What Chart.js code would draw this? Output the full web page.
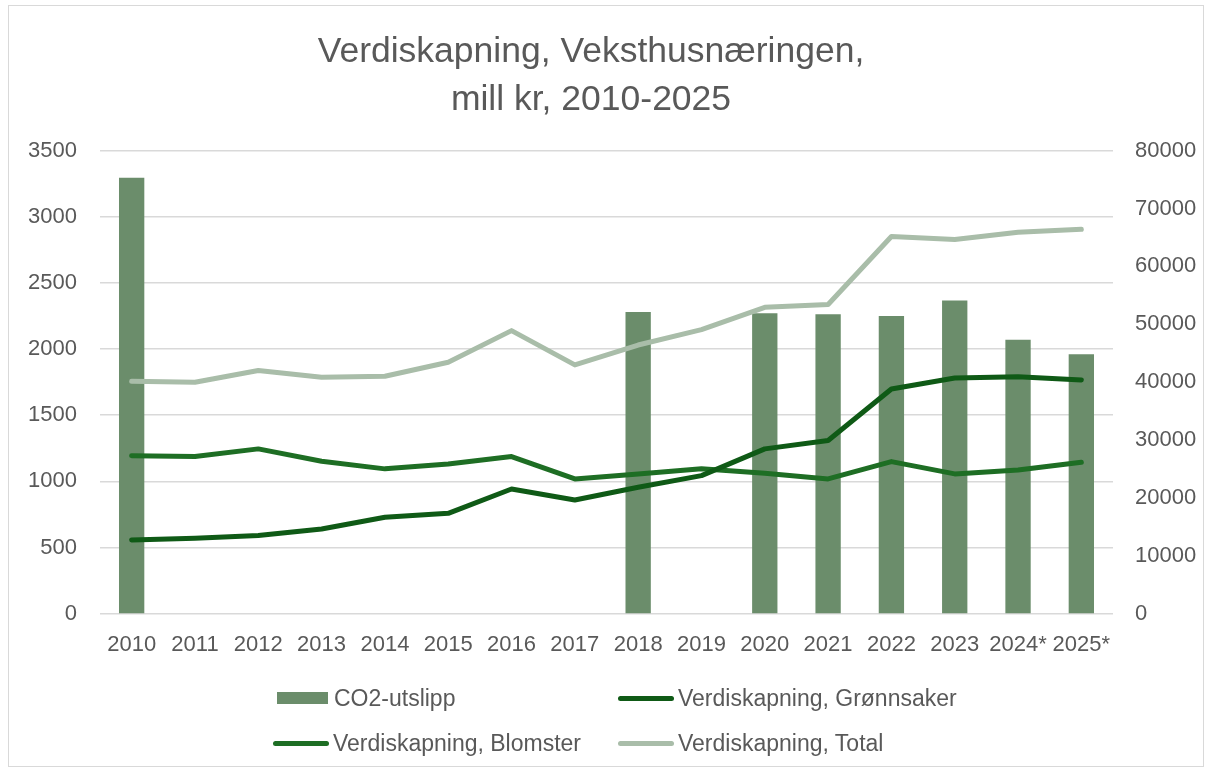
<!DOCTYPE html>
<html>
<head>
<meta charset="utf-8">
<script src="https://cdn.jsdelivr.net/npm/chart.js@4"></script>
<style>
    body { margin: 0; background: #fff; font-family: "Liberation Sans", Arial, sans-serif; overflow: hidden; }
    #frame { position: absolute; left: 8px; top: 5px; width: 1196px; height: 762px; border: 1px solid #d9d9d9; box-sizing: border-box; }
    #wrap { position: absolute; left: -36px; top: 0; width: 1254px; height: 771px; }
    #legend { position: absolute; left: 0; top: 0; width: 1209px; height: 771px; pointer-events: none; }
    .item { position: absolute; display: flex; align-items: center; font-size: 23px; color: #595959; white-space: nowrap; }
    .marker { display: inline-block; margin-right: 4px; }
</style>
</head>
<body>
<div id="frame"></div>
<div id="wrap"><canvas id="chart6" width="1254" height="771"></canvas></div>
<div id="legend"></div>
<script>
const years = ['2010', '2011', '2012', '2013', '2014', '2015', '2016', '2017', '2018', '2019', '2020', '2021', '2022', '2023', '2024*', '2025*'];
const co2Utslipp = [75300, null, null, null, null, null, null, null, 52100, null, 51900, 51700, 51400, 54100, 47300, 44800];
const verdiGronnsaker = [557, 569, 590, 640, 728, 758, 942, 859, 955, 1043, 1245, 1308, 1698, 1781, 1791, 1766];
const verdiBlomster = [1194, 1187, 1245, 1151, 1094, 1131, 1187, 1018, 1056, 1094, 1060, 1018, 1149, 1056, 1086, 1144];
const verdiTotal = [1756, 1749, 1837, 1786, 1794, 1900, 2139, 1880, 2030, 2147, 2315, 2336, 2850, 2827, 2882, 2905];

const titleLines = ['Verdiskapning, Veksthusnæringen,', 'mill kr, 2010-2025'];
const textColor = '#595959';
const gridColor = '#d9d9d9';

function lineSet(label, data, color) {
    return {
        type: 'line',
        label: label,
        data: data,
        yAxisID: 'y',
        borderColor: color,
        backgroundColor: color,
        borderWidth: 5,
        pointRadius: 0,
        tension: 0,
        borderCapStyle: 'round',
        borderJoinStyle: 'round',
        order: 1
    };
}

// plain numbers, no thousand separators
const plainTick = value => String(value);

const ctx = document.getElementById('chart6').getContext('2d');
const chart = new Chart(ctx, {
    type: 'bar',
    data: {
        labels: years,
        datasets: [
            {
                type: 'bar',
                label: 'CO2-utslipp',
                data: co2Utslipp,
                yAxisID: 'y1',
                backgroundColor: '#6b8d6b',
                barPercentage: 0.5,
                categoryPercentage: 0.8,
                order: 2
            },
            lineSet('Verdiskapning, Grønnsaker', verdiGronnsaker, '#0f5a16'),
            lineSet('Verdiskapning, Blomster', verdiBlomster, '#1e6e24'),
            lineSet('Verdiskapning, Total', verdiTotal, '#a9bda9')
        ]
    },
    options: {
        responsive: false,
        animation: false,
        layout: { padding: { left: 0, right: 0, top: 0, bottom: 103 } },
        plugins: {
            legend: { display: false },
            tooltip: { enabled: false },
            title: {
                display: true,
                text: titleLines,
                color: textColor,
                font: { family: '"Liberation Sans", Arial, sans-serif', size: 35.5, weight: 'normal', lineHeight: 1.36 },
                padding: { top: 28, bottom: 26 }
            }
        },
        scales: {
            x: {
                grid: { display: false },
                border: { display: false },
                ticks: { color: textColor, font: { size: 22 }, padding: 10, maxRotation: 0, autoSkip: false }
            },
            y: {
                position: 'left',
                min: 0,
                max: 3500,
                grid: { color: gridColor, lineWidth: 1.5, drawTicks: false },
                border: { display: false },
                ticks: { stepSize: 500, color: textColor, font: { size: 22 }, padding: 23, callback: plainTick },
                afterFit: scale => { scale.width = 136; }
            },
            y1: {
                position: 'right',
                min: 0,
                max: 80000,
                grid: { display: false, drawTicks: false },
                border: { display: false },
                ticks: { stepSize: 10000, color: textColor, font: { size: 22 }, padding: 22, callback: plainTick },
                afterFit: scale => { scale.width = 105; }
            }
        }
    }
});

// legend in two rows, built from the chart's datasets
const legendSpots = [[277, 698], [618, 698], [273, 743], [618, 743]];
const legendBox = document.getElementById('legend');
chart.data.datasets.forEach((ds, i) => {
    const item = document.createElement('div');
    item.className = 'item';
    item.style.left = legendSpots[i][0] + 'px';
    item.style.top = (legendSpots[i][1] - 14) + 'px';
    item.style.height = '28px';
    const mark = document.createElement('span');
    mark.className = 'marker';
    if (ds.type === 'bar') {
        mark.style.width = '51px';
        mark.style.height = '12px';
        mark.style.background = ds.backgroundColor;
        mark.style.marginRight = '6px';
    } else {
        mark.style.width = '56px';
        mark.style.height = '5px';
        mark.style.borderRadius = '3px';
        mark.style.background = ds.borderColor;
    }
    const txt = document.createElement('span');
    txt.textContent = ds.label;
    item.appendChild(mark);
    item.appendChild(txt);
    legendBox.appendChild(item);
});
</script>
</body>
</html>
